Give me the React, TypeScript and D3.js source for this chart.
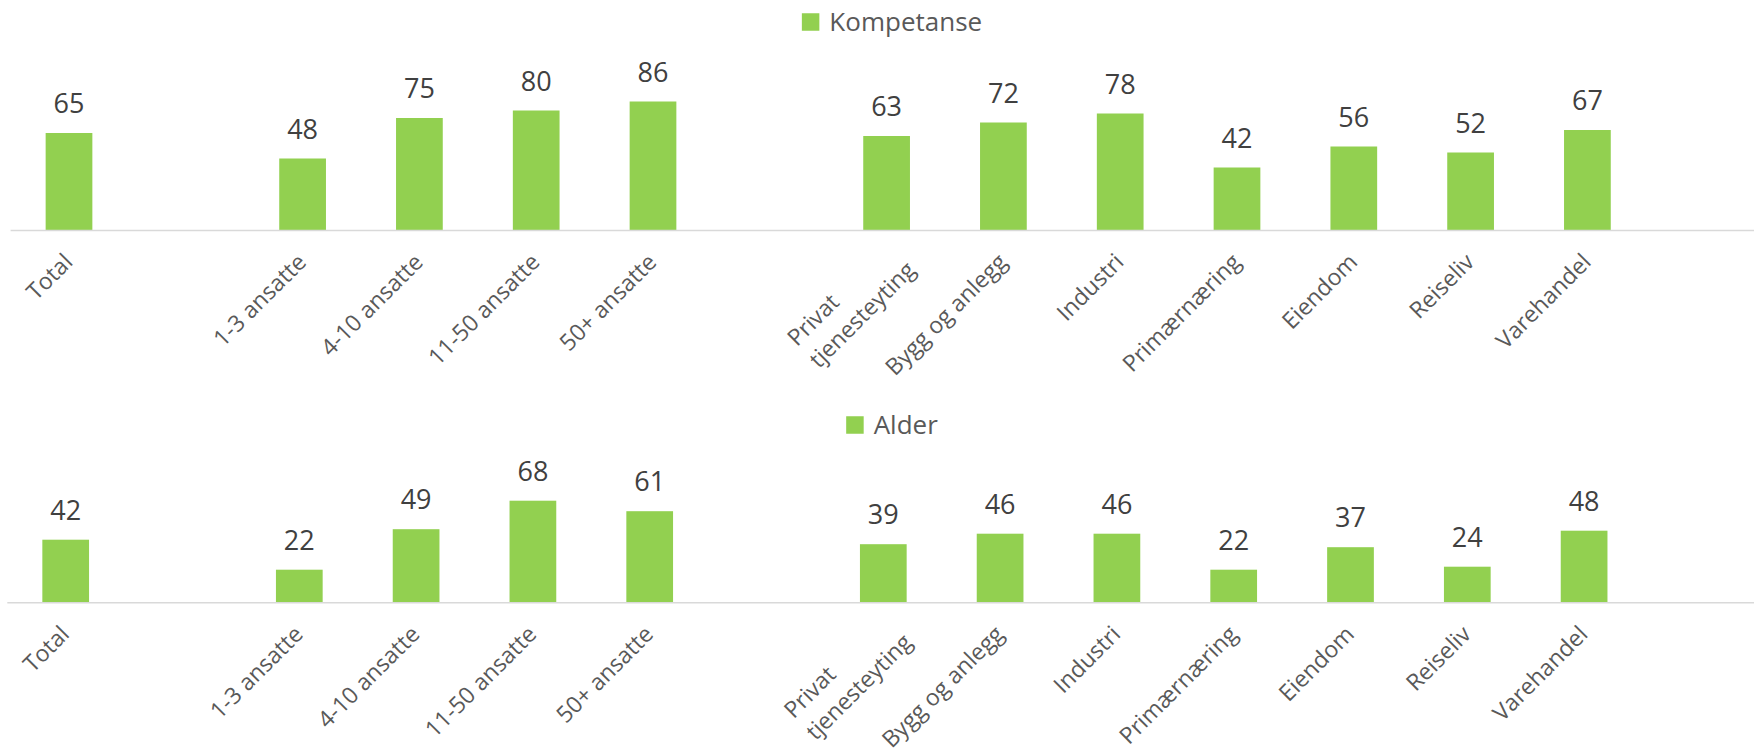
import React from "react";
import * as d3 from "d3";

// ---- data ----
const slots = [
  "Total",
  "gap1",
  "1-3 ansatte",
  "4-10 ansatte",
  "11-50 ansatte",
  "50+ ansatte",
  "gap2",
  "Privat\ntjenesteyting",
  "Bygg og anlegg",
  "Industri",
  "Primærnæring",
  "Eiendom",
  "Reiseliv",
  "Varehandel",
  "gap3",
];
const categories = slots.filter((s) => !s.startsWith("gap"));
const kompetanse = [65, 48, 75, 80, 86, 63, 72, 78, 42, 56, 52, 67];
const alder = [42, 22, 49, 68, 61, 39, 46, 46, 22, 37, 24, 48];
const seriesNames = ["Kompetanse", "Alder"];

const FONT = "'Open Sans', 'DejaVu Sans', sans-serif";
const GREEN = "#92D050";

let ctx: CanvasRenderingContext2D | null = null;
function measure(text: string, size: number) {
  if (!ctx) {
    const c = document.createElement("canvas");
    ctx = c.getContext("2d");
  }
  if (!ctx) return text.length * size * 0.55;
  ctx.font = `${size}px 'Open Sans'`;
  return ctx.measureText(text).width;
}

const W = 1754;
const H = 751;
const STEP = 116.8;
const CAT_SIZE = 23;
const LINE_H = 31;

function Panel({
  name,
  values,
  x0,
  axisY,
  legendCY,
}: {
  name: string;
  values: number[];
  x0: number;
  axisY: number;
  legendCY: number;
}) {
  const x = d3
    .scaleBand<string>()
    .domain(slots)
    .range([x0, x0 + STEP * slots.length])
    .padding(0);
  const y = d3.scaleLinear().domain([0, 100]).range([axisY, axisY - 150]);
  const barW = x.bandwidth() * 0.4;

  const legSize = 26;
  const sq = 17.5;
  const tw = measure(name, legSize);
  const legW = sq + 10 + tw;
  const legX = 892 - legW / 2;

  return (
    <g>
      {/* legend */}
      <rect x={legX} y={legendCY - sq / 2} width={sq} height={sq} fill={GREEN} />
      <text
        x={legX + sq + 10}
        y={legendCY}
        dy="0.36em"
        fontSize={legSize}
        fill="#595959"
        fontFamily={FONT}
      >
        {name}
      </text>
      {/* bars */}
      {categories.map((c, i) => {
        const cx = (x(c) as number) + x.bandwidth() / 2;
        const v = values[i];
        return (
          <g key={c}>
            <rect
              x={cx - barW / 2}
              y={y(v)}
              width={barW}
              height={axisY - y(v)}
              fill={GREEN}
            />
            <text
              x={cx}
              y={y(v) - 20}
              textAnchor="middle"
              fontSize={27}
              fill="#404040"
              fontFamily={FONT}
            >
              {v}
            </text>
          </g>
        );
      })}
      {/* axis line */}
      <line
        x1={x0}
        x2={W}
        y1={axisY}
        y2={axisY}
        stroke="#D9D9D9"
        strokeWidth={1.6}
      />
      {/* category labels */}
      {categories.map((c) => {
        const cx = (x(c) as number) + x.bandwidth() / 2;
        const lines = c.split("\n");
        const n = lines.length;
        const maxLen = d3.max(lines, (l) => measure(l, CAT_SIZE)) as number;
        const ex = n === 1 ? cx + 5 : cx + 30;
        const ey = n === 1 ? axisY + 33 : axisY + 41;
        return (
          <g key={"l" + c} transform={`translate(${ex},${ey}) rotate(-45)`}>
            {lines.map((l, i) => (
              <text
                key={i}
                x={-maxLen}
                y={-(n - 1 - i) * LINE_H}
                fontSize={CAT_SIZE}
                fill="#595959"
                fontFamily={FONT}
              >
                {l}
              </text>
            ))}
          </g>
        );
      })}
    </g>
  );
}

export default function App() {
  return (
    <svg
      width={W}
      height={H}
      style={{ position: "absolute", left: 0, top: 0, background: "#fff" }}
    >
      <rect width={W} height={H} fill="#fff" />
      <Panel name={seriesNames[0]} values={kompetanse} x0={10.6} axisY={230.5} legendCY={22} />
      <Panel name={seriesNames[1]} values={alder} x0={7.3} axisY={602.7} legendCY={425} />
    </svg>
  );
}
